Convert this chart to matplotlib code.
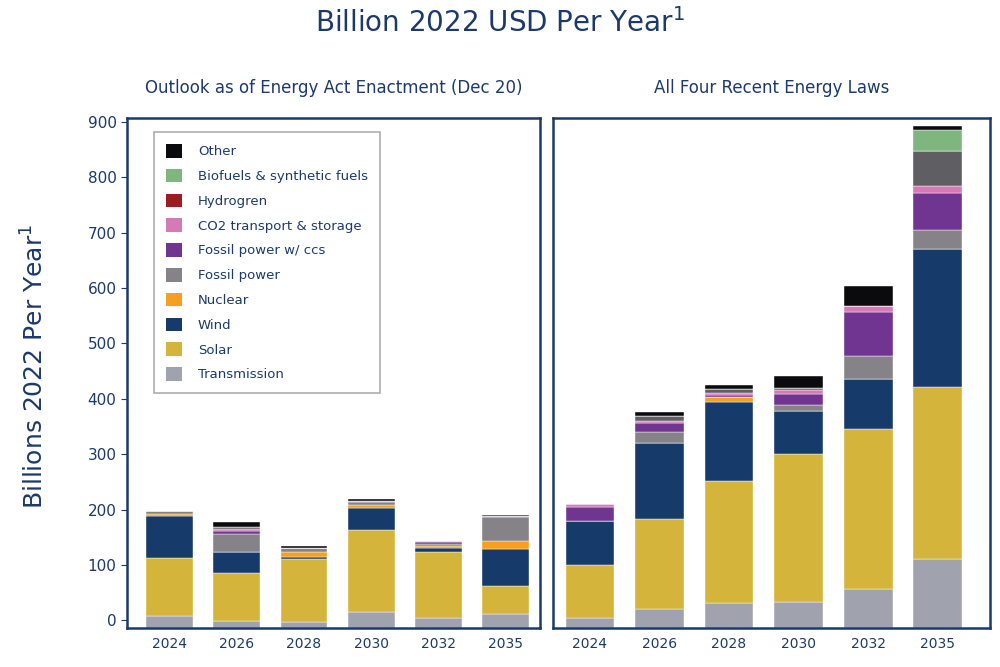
import matplotlib
matplotlib.use("Agg")
import matplotlib.pyplot as plt
from matplotlib.patches import Patch

years = ["2024", "2026", "2028", "2030", "2032", "2035"]
series = ["Transmission", "Solar", "Wind", "Nuclear", "Fossil power",
          "Fossil power w/ ccs", "CO2 transport & storage", "Other (dark)",
          "Hydrogren", "Biofuels & synthetic fuels", "Other"]
colors = ["#a0a3ad", "#d4b43a", "#163a6a", "#f5a11f", "#858388",
          "#6f3591", "#d57ab7", "#5f5e62", "#9c1c22", "#7fb57f", "#0b0a0d"]

# left: outlook at enactment
left = {
    "Transmission":               [22, 13, 11, 29, 18, 25],
    "Solar":                      [104, 87, 113, 148, 120, 51],
    "Wind":                       [76, 38, 5, 40, 7, 66],
    "Nuclear":                    [4, 0, 9, 5, 3, 15],
    "Fossil power":               [5, 32, 6, 5, 3, 44],
    "Fossil power w/ ccs":        [0, 6, 0, 3, 5, 2],
    "CO2 transport & storage":    [0, 2, 0, 0, 2, 0],
    "Other (dark)":               [0, 5, 0, 0, 0, 0],
    "Hydrogren":                  [0, 0, 0, 0, 0, 0],
    "Biofuels & synthetic fuels": [0, 0, 0, 0, 0, 0],
    "Other":                      [0, 8, 5, 3, 0, 2],
}
# right: all four recent energy laws
right = {
    "Transmission":               [18, 34, 45, 47, 70, 124],
    "Solar":                      [95, 163, 220, 267, 289, 311],
    "Wind":                       [80, 137, 144, 78, 91, 249],
    "Nuclear":                    [0, 0, 8, 0, 0, 0],
    "Fossil power":               [0, 20, 0, 11, 42, 35],
    "Fossil power w/ ccs":        [25, 17, 3, 19, 78, 67],
    "CO2 transport & storage":    [6, 3, 5, 7, 12, 12],
    "Other (dark)":               [0, 9, 6, 4, 0, 63],
    "Hydrogren":                  [0, 0, 0, 0, 0, 0],
    "Biofuels & synthetic fuels": [0, 0, 0, 0, 0, 38],
    "Other":                      [0, 7, 8, 22, 36, 7],
}

navy = "#1b3a6b"
base = -14
fig = plt.figure(figsize=(10, 6.67), dpi=100)
axl = fig.add_axes([0.127, 0.058, 0.413, 0.765])
axr = fig.add_axes([0.553, 0.058, 0.437, 0.765])

def draw(ax, data, xlim):
    x = range(len(years))
    bottom = [base] * len(years)
    for s, c in zip(series, colors):
        vals = data[s]
        ax.bar(x, vals, 0.7, bottom=bottom, color=c, edgecolor="white", linewidth=0.3)
        bottom = [b + v for b, v in zip(bottom, vals)]
    ax.set_xlim(*xlim)
    ax.set_ylim(base - 0.5, 907)
    ax.set_xticks(list(x))
    ax.set_xticklabels(years, color=navy, fontsize=10)
    for sp in ax.spines.values():
        sp.set_color(navy)
        sp.set_linewidth(1.8)
    ax.tick_params(axis="x", length=0, pad=6)

draw(axl, left, (-0.64, 5.52))
draw(axr, right, (-0.53, 5.75))
axl.set_yticks(range(0, 1000, 100))
axl.tick_params(axis="y", colors=navy, labelsize=11, length=4)
axr.set_yticks([])

axl.set_title("Outlook as of Energy Act Enactment (Dec 20)", color=navy, fontsize=12, pad=18)
axr.set_title("All Four Recent Energy Laws", color=navy, fontsize=12, pad=18)
fig.text(0.5, 0.965, "Billion 2022 USD Per Year$^1$", ha="center", va="center",
         color=navy, fontsize=20)
fig.text(0.035, 0.45, "Billions 2022 Per Year$^1$", rotation=90, ha="center", va="center",
         color=navy, fontsize=18)

handles = [Patch(facecolor=c, label=s) for s, c in zip(series, colors) if s != "Other (dark)"]
leg = axl.legend(handles=handles[::-1], loc="upper left", bbox_to_anchor=(0.05, 0.985),
                 frameon=True, fancybox=False, edgecolor="#999999", fontsize=9.5,
                 labelcolor=navy, handlelength=1.2, handleheight=1.2,
                 labelspacing=0.8, borderpad=0.9, handletextpad=1.2)
leg.get_frame().set_linewidth(1.2)

fig.savefig("out.png", dpi=100)
